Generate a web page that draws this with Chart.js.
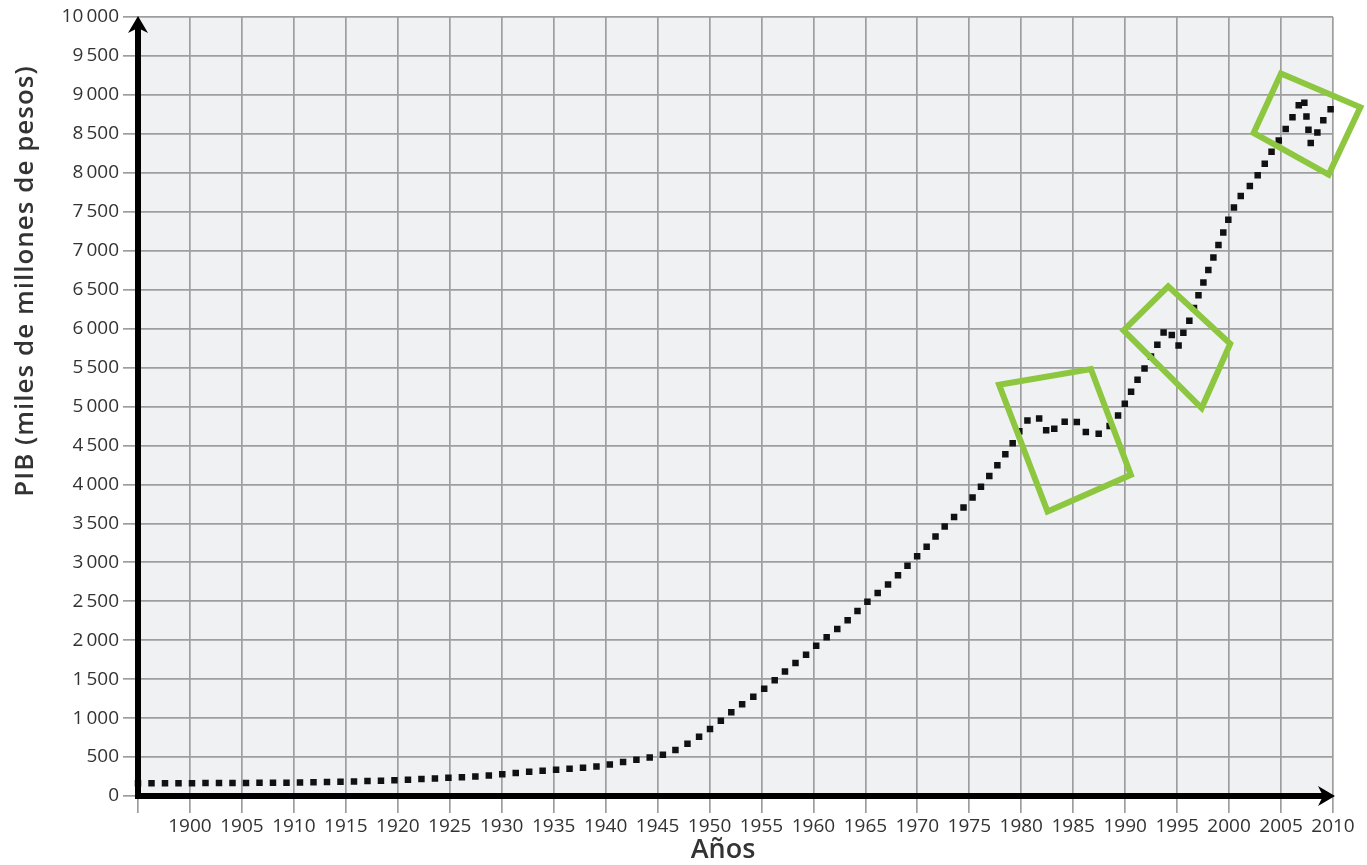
<!DOCTYPE html>
<html lang="es">
<head>
<meta charset="utf-8">
<title>PIB de México, 1895–2010</title>
<script src="https://cdn.jsdelivr.net/npm/chart.js@4.4.1/dist/chart.umd.min.js"></script>
<style>
  html, body { margin: 0; padding: 0; background: #ffffff; }
  #wrap { position: relative; width: 1367px; height: 865px; }
</style>
</head>
<body>
<div id="wrap"><canvas id="pib"></canvas></div>
<script>
// Years (fractional where the curve wiggles) and GDP in miles de millones de pesos
const years = [
  1895, 1896, 1897, 1898, 1899, 1900, 1901, 1902, 1903, 1904,
  1905, 1906, 1907, 1908, 1909, 1910, 1911, 1912, 1913, 1914,
  1915, 1916, 1917, 1918, 1919, 1920, 1921, 1922, 1923, 1924,
  1925, 1926, 1927, 1928, 1929, 1930, 1931, 1932, 1933, 1934,
  1935, 1936, 1937, 1938, 1939, 1940, 1941, 1942, 1943, 1944,
  1945, 1946, 1947, 1948, 1949, 1950, 1951, 1952, 1953, 1954,
  1955, 1956, 1957, 1958, 1959, 1960, 1961, 1962, 1963, 1964,
  1965, 1966, 1967, 1968, 1969, 1970, 1971, 1972, 1973, 1974,
  1975, 1976, 1977, 1978, 1979, 1980, 1981.2, 1982, 1982.7, 1983.6,
  1984.3, 1985, 1986, 1987.1, 1988.2, 1989, 1989.7, 1990.3, 1991, 1992,
  1993, 1994.1, 1994.6, 1995.1, 1995.6, 1996.2, 1997, 1998, 1999, 2000,
  2001, 2002, 2003, 2004, 2005, 2006, 2006.5, 2007.1, 2007.5, 2007.9,
  2008.5, 2009, 2009.7, 2010.1, 2010.8
];
const gdp = [
  165, 165, 165, 165, 165, 165, 165, 166, 166, 167,
  167, 168, 169, 170, 171, 172, 174, 176, 178, 181,
  184, 187, 191, 195, 199, 204, 209, 215, 221, 228,
  235, 241, 248, 255, 266, 279, 291, 303, 314, 325,
  335, 344, 355, 366, 377, 395, 420, 443, 465, 488,
  510, 550, 610, 680, 760, 857, 955, 1065, 1165, 1255,
  1350, 1455, 1570, 1680, 1780, 1900, 2010, 2115, 2220, 2345,
  2470, 2585, 2695, 2815, 2950, 3080, 3215, 3370, 3510, 3646,
  3783, 3950, 4120, 4300, 4490, 4720, 4870, 4810, 4640, 4790,
  4805, 4835, 4690, 4640, 4715, 4825, 4970, 5120, 5300, 5520,
  5770, 6000, 5890, 5780, 5947, 6109, 6410, 6750, 7080, 7420,
  7680, 7830, 8020, 8250, 8460, 8690, 8804, 8958, 8680, 8376,
  8517, 8659, 8795, 8924, 9065
];

// Axis tick labels
const xTickYears = [1900, 1905, 1910, 1915, 1920, 1925, 1930, 1935, 1940, 1945, 1950, 1955,
  1960, 1965, 1970, 1975, 1980, 1985, 1990, 1995, 2000, 2005, 2010];
const yTickLabels = ['0', '500', '1\u2009000', '1\u2009500', '2\u2009000', '2\u2009500', '3\u2009000',
  '3\u2009500', '4\u2009000', '4\u2009500', '5\u2009000', '5\u2009500', '6\u2009000', '6\u2009500',
  '7\u2009000', '7\u2009500', '8\u2009000', '8\u2009500', '9\u2009000', '9\u2009500', '10\u2009000'];

// Highlighted periods: corners of tilted frames, in (year, value)
const highlightBoxes = [
  [[1977.87, 5279], [1986.70, 5481], [1990.55, 4123], [1982.53, 3652]],
  [[1989.85, 5977], [1994.14, 6542], [2000.11, 5806], [1997.36, 4980]],
  [[2004.99, 9274], [2012.63, 8841], [2009.58, 7977], [2002.36, 8512]]
];

const FONT = '"Open Sans", "Noto Sans", "DejaVu Sans", sans-serif';
const TEXT = '#333333';
const GRID = '#9e9e9e';

const decor = {
  id: 'decor',
  beforeDraw(chart) {
    const { ctx, chartArea: a } = chart;
    ctx.save();
    ctx.fillStyle = '#eff1f2';
    ctx.fillRect(a.left, a.top, a.right - a.left, a.bottom - a.top);
    ctx.restore();
  },
  afterDatasetsDraw(chart) {
    const { ctx, scales: { x, y } } = chart;
    const x0 = x.getPixelForValue(1895);
    const y0 = y.getPixelForValue(0);
    const xEnd = x.getPixelForValue(2010);
    const yEnd = y.getPixelForValue(10000);

    ctx.save();
    // axis lines with arrowheads
    ctx.strokeStyle = '#000';
    ctx.fillStyle = '#000';
    ctx.lineWidth = 6;
    ctx.lineCap = 'butt';
    ctx.beginPath();
    ctx.moveTo(x0, y0 + 3);
    ctx.lineTo(x0, yEnd + 10);
    ctx.moveTo(x0 - 3, y0);
    ctx.lineTo(xEnd - 10, y0);
    ctx.stroke();

    ctx.beginPath();
    ctx.moveTo(x0, yEnd - 1);
    ctx.lineTo(x0 + 10, yEnd + 16);
    ctx.lineTo(x0, yEnd + 11);
    ctx.lineTo(x0 - 10, yEnd + 16);
    ctx.closePath();
    ctx.fill();

    ctx.beginPath();
    ctx.moveTo(xEnd + 2, y0);
    ctx.lineTo(xEnd - 15, y0 - 10);
    ctx.lineTo(xEnd - 10, y0);
    ctx.lineTo(xEnd - 15, y0 + 10);
    ctx.closePath();
    ctx.fill();

    // highlight frames
    ctx.strokeStyle = '#8dc63f';
    ctx.lineWidth = 6;
    ctx.lineJoin = 'miter';
    highlightBoxes.forEach(box => {
      ctx.beginPath();
      box.forEach(([yr, v], i) => {
        const px = x.getPixelForValue(yr);
        const py = y.getPixelForValue(v);
        if (i === 0) ctx.moveTo(px, py); else ctx.lineTo(px, py);
      });
      ctx.closePath();
      ctx.stroke();
    });

    // axis titles
    ctx.fillStyle = TEXT;
    ctx.textAlign = 'center';
    ctx.textBaseline = 'alphabetic';
    ctx.save();
    ctx.font = '600 26px ' + FONT;
    if ('letterSpacing' in ctx) ctx.letterSpacing = '1px';
    ctx.translate(33, 281);
    ctx.rotate(-Math.PI / 2);
    ctx.fillText('PIB (miles de millones de pesos)', 0, 0);
    ctx.restore();
    ctx.font = '600 27px ' + FONT;
    ctx.fillText('Años', 723, 858);
    ctx.restore();
  }
};

new Chart(document.getElementById('pib'), {
  type: 'line',
  data: {
    datasets: [{
      label: 'PIB',
      data: years.map((yr, i) => ({ x: yr, y: gdp[i] })),
      borderColor: '#111111',
      borderWidth: 6.5,
      borderDash: [0, 13.5],
      borderCapStyle: 'square',
      borderJoinStyle: 'round',
      cubicInterpolationMode: 'monotone',
      pointRadius: 0,
      pointHoverRadius: 0,
      fill: false,
      clip: false
    }]
  },
  options: {
    responsive: true,
    maintainAspectRatio: false,
    animation: false,
    events: [],
    layout: { padding: { top: 17, right: 34, left: 0, bottom: 0 } },
    plugins: { legend: { display: false }, tooltip: { enabled: false }, title: { display: false } },
    scales: {
      x: {
        type: 'linear',
        min: 1895,
        max: 2010,
        afterFit(s) { s.height = 69; },
        afterBuildTicks(s) {
          s.ticks = [{ value: 1895 }].concat(xTickYears.map(v => ({ value: v })));
        },
        ticks: {
          autoSkip: false,
          maxRotation: 0,
          padding: 2,
          color: TEXT,
          font: { family: FONT, size: 19 },
          callback: v => (xTickYears.includes(v) ? String(v) : '')
        },
        grid: { color: GRID, lineWidth: 1.7, tickLength: 17, drawTicks: true },
        border: { display: false }
      },
      y: {
        type: 'linear',
        min: 0,
        max: 10000,
        afterFit(s) { s.width = 138; },
        ticks: {
          stepSize: 500,
          autoSkip: false,
          padding: 4,
          color: TEXT,
          font: { family: FONT, size: 19 },
          callback: v => yTickLabels[Math.round(v / 500)]
        },
        grid: { color: GRID, lineWidth: 1.7, tickLength: 15, drawTicks: true },
        border: { display: false }
      }
    }
  },
  plugins: [decor]
});
</script>
</body>
</html>
